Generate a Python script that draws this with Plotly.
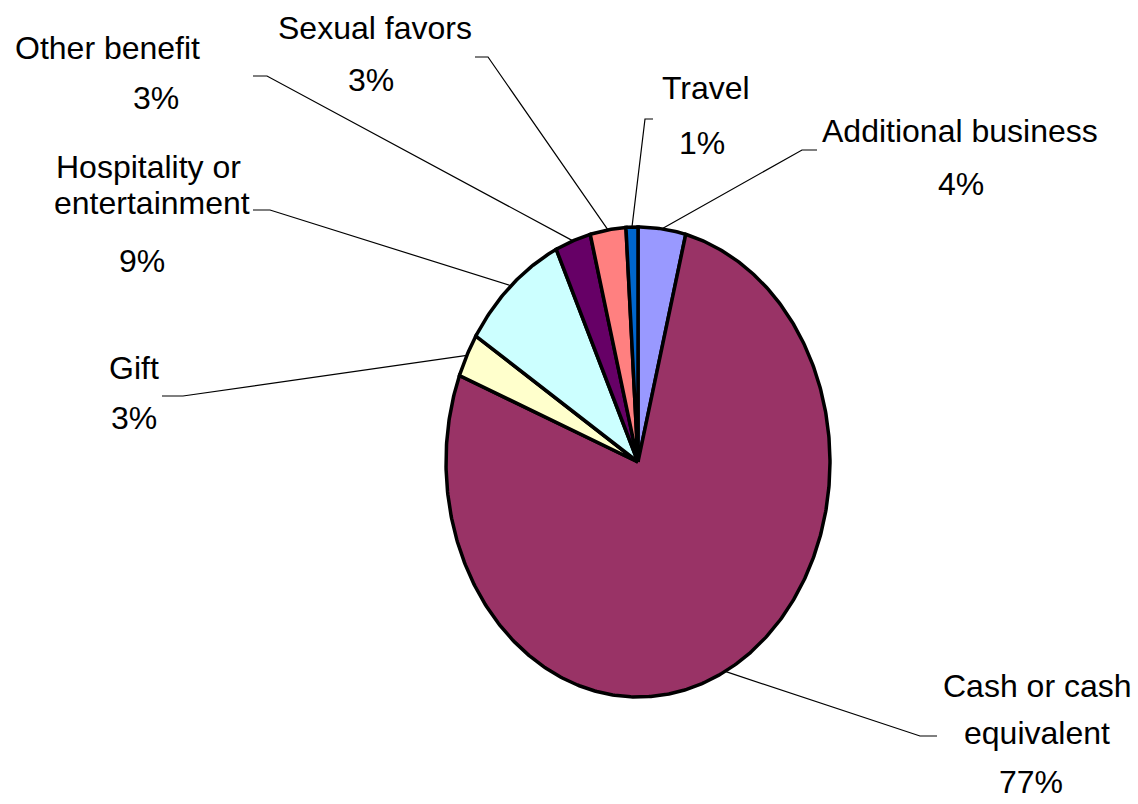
import numpy as np
import plotly.graph_objects as go

# Share of cases by type of benefit (percent), clockwise from 12 o'clock
categories = ["Additional business", "Cash or cash equivalent", "Gift",
              "Hospitality or entertainment", "Other benefit", "Sexual favors", "Travel"]
values = [4, 77, 3, 9, 3, 3, 1]
colors = ["#9999FF", "#993366", "#FFFFCC", "#CCFFFF", "#660066", "#FF8080", "#0066CC"]

# How each category name is wrapped in its label
label_names = [["Additional business"], ["Cash or cash", "equivalent"], ["Gift"],
               ["Hospitality or", "entertainment"], ["Other benefit"], ["Sexual favors"], ["Travel"]]

# ---- layout (pixels) ----
W, H = 1138, 804
CX, CY = 638, 462          # pie centre
RX, RY = 192, 235          # pie radii (elliptical)
FONT = dict(family="Liberation Sans, Arial, sans-serif", size=32, color="#000000")

# centre of each text line of a label: name lines, then the percent line
label_lines_xy = [
    [(960, 131), (961, 184)],
    [(1037, 686), (1037, 733), (1031, 782)],
    [(134, 368), (134, 418)],
    [(148, 167), (152, 203), (142, 261)],
    [(107, 48), (156, 98)],
    [(375, 28), (371, 80)],
    [(706, 88), (702, 143)],
]
# leader line: stub start, elbow (pixels); the far end sits on the slice edge
leader_xy = [
    [(817, 150), (802, 150)],
    [(937, 736), (920, 736)],
    [(162, 396), (183, 396)],
    [(253, 210), (270, 210)],
    [(253, 76), (267, 76)],
    [(475, 57), (488, 57)],
    [(653, 119), (645, 119)],
]


def px_to_data(px, py):
    return (px - CX) / RX, (CY - py) / RY


fig = go.Figure()

total = float(sum(values))
start = 0.0
mids = []
for name, v, c in zip(categories, values, colors):
    a0 = start / total * 2 * np.pi
    a1 = (start + v) / total * 2 * np.pi
    n = max(8, int(v * 6))
    t = np.linspace(a0, a1, n)
    xs = np.concatenate([[0.0], np.sin(t), [0.0]])
    ys = np.concatenate([[0.0], np.cos(t), [0.0]])
    fig.add_trace(go.Scatter(
        x=xs, y=ys, mode="lines", fill="toself", fillcolor=c,
        line=dict(color="#000000", width=3.5), name=name,
        hoverinfo="skip", showlegend=False,
    ))
    mids.append((a0 + a1) / 2)
    start += v

# leader lines
for (p0, p1), am in zip(leader_xy, mids):
    x0, y0 = px_to_data(*p0)
    x1, y1 = px_to_data(*p1)
    fig.add_trace(go.Scatter(
        x=[x0, x1, np.sin(am)], y=[y0, y1, np.cos(am)], mode="lines",
        line=dict(color="#000000", width=1.2), hoverinfo="skip", showlegend=False,
    ))

# labels
for names, v, xy in zip(label_names, values, label_lines_xy):
    texts = names + [f"{v}%"]
    for txt, (px, py) in zip(texts, xy):
        fig.add_annotation(
            x=px / W, y=1 - py / H, xref="paper", yref="paper",
            text=txt, showarrow=False, xanchor="center", yanchor="middle",
            font=FONT,
        )

fig.update_xaxes(range=[-CX / RX, (W - CX) / RX], visible=False, fixedrange=True)
fig.update_yaxes(range=[(CY - H) / RY, CY / RY], visible=False, fixedrange=True)
fig.update_layout(
    width=W, height=H, margin=dict(l=0, r=0, t=0, b=0),
    paper_bgcolor="#FFFFFF", plot_bgcolor="#FFFFFF",
    hovermode=False, showlegend=False,
)

fig.write_html("out.html")
